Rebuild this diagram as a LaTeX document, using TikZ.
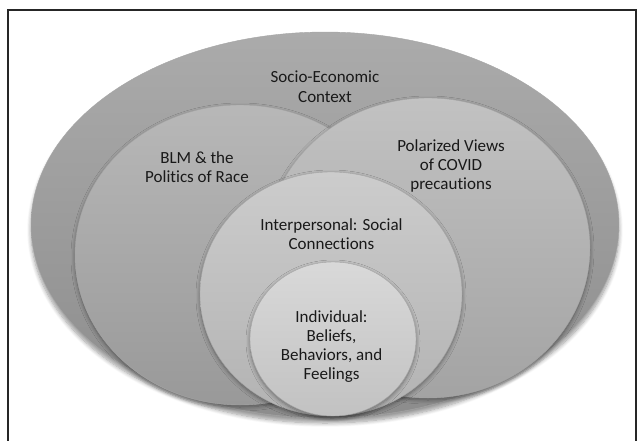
\documentclass[tikz,border=0pt]{standalone}
\usepackage{fontspec}
\setmainfont{Carlito}[Ligatures=NoCommon]
\usetikzlibrary{shapes.geometric,shadows.blur}
\begin{document}
\begin{tikzpicture}[x=1pt,y=-1pt,
  ring/.style={ellipse, inner sep=0pt, draw=black!35, line width=0.4pt},
  softshadow/.style={blur shadow={shadow xshift=0pt, shadow yshift=-#1,
      shadow blur radius=4pt, shadow blur steps=8, shadow opacity=40}},
  lbl/.style={font=\fontsize{17}{19}\selectfont, text=black!90, align=center, inner sep=0pt}]
\useasboundingbox (0,0) rectangle (638,440);
% frame
\draw[black!85, line width=1.1pt] (8,445) -- (8,10) -- (636,10) -- (636,445);

% nested ellipses, back to front
\node[ring, softshadow=5pt, minimum width=588pt, minimum height=386pt,
      top color=black!33, bottom color=black!45] (socio) at (325,225) {};
\node[ring, softshadow=2pt, minimum width=330pt, minimum height=300pt,
      top color=black!28, bottom color=black!40] (blm) at (240,255) {};
\node[ring, softshadow=2pt, minimum width=324pt, minimum height=300pt,
      top color=black!24, bottom color=black!36] (polar) at (428,248) {};
\node[ring, softshadow=2pt, minimum width=262pt, minimum height=244pt,
      top color=black!20, bottom color=black!30] (inter) at (331,294) {};
\node[ring, softshadow=2pt, minimum width=166pt, minimum height=154pt,
      top color=black!15, bottom color=black!24] (indiv) at (333,339) {};

% labels
\node[lbl, font=\fontsize{17}{20}\selectfont] (tsocio) at (325,87) {Socio-Economic\\Context};
\node[lbl] (tblm) at (197,167) {BLM \& the\\Politics of Race};
\node[lbl] (tpolar) at (451,166) {Polarized Views\\of COVID\\precautions};
\node[lbl] (tinter) at (331.5,234) {Interpersonal: Social\\Connections};
\node[lbl] (tindiv) at (331.5,347) {Individual:\\Beliefs,\\Behaviors, and\\Feelings};
\end{tikzpicture}
\end{document}
